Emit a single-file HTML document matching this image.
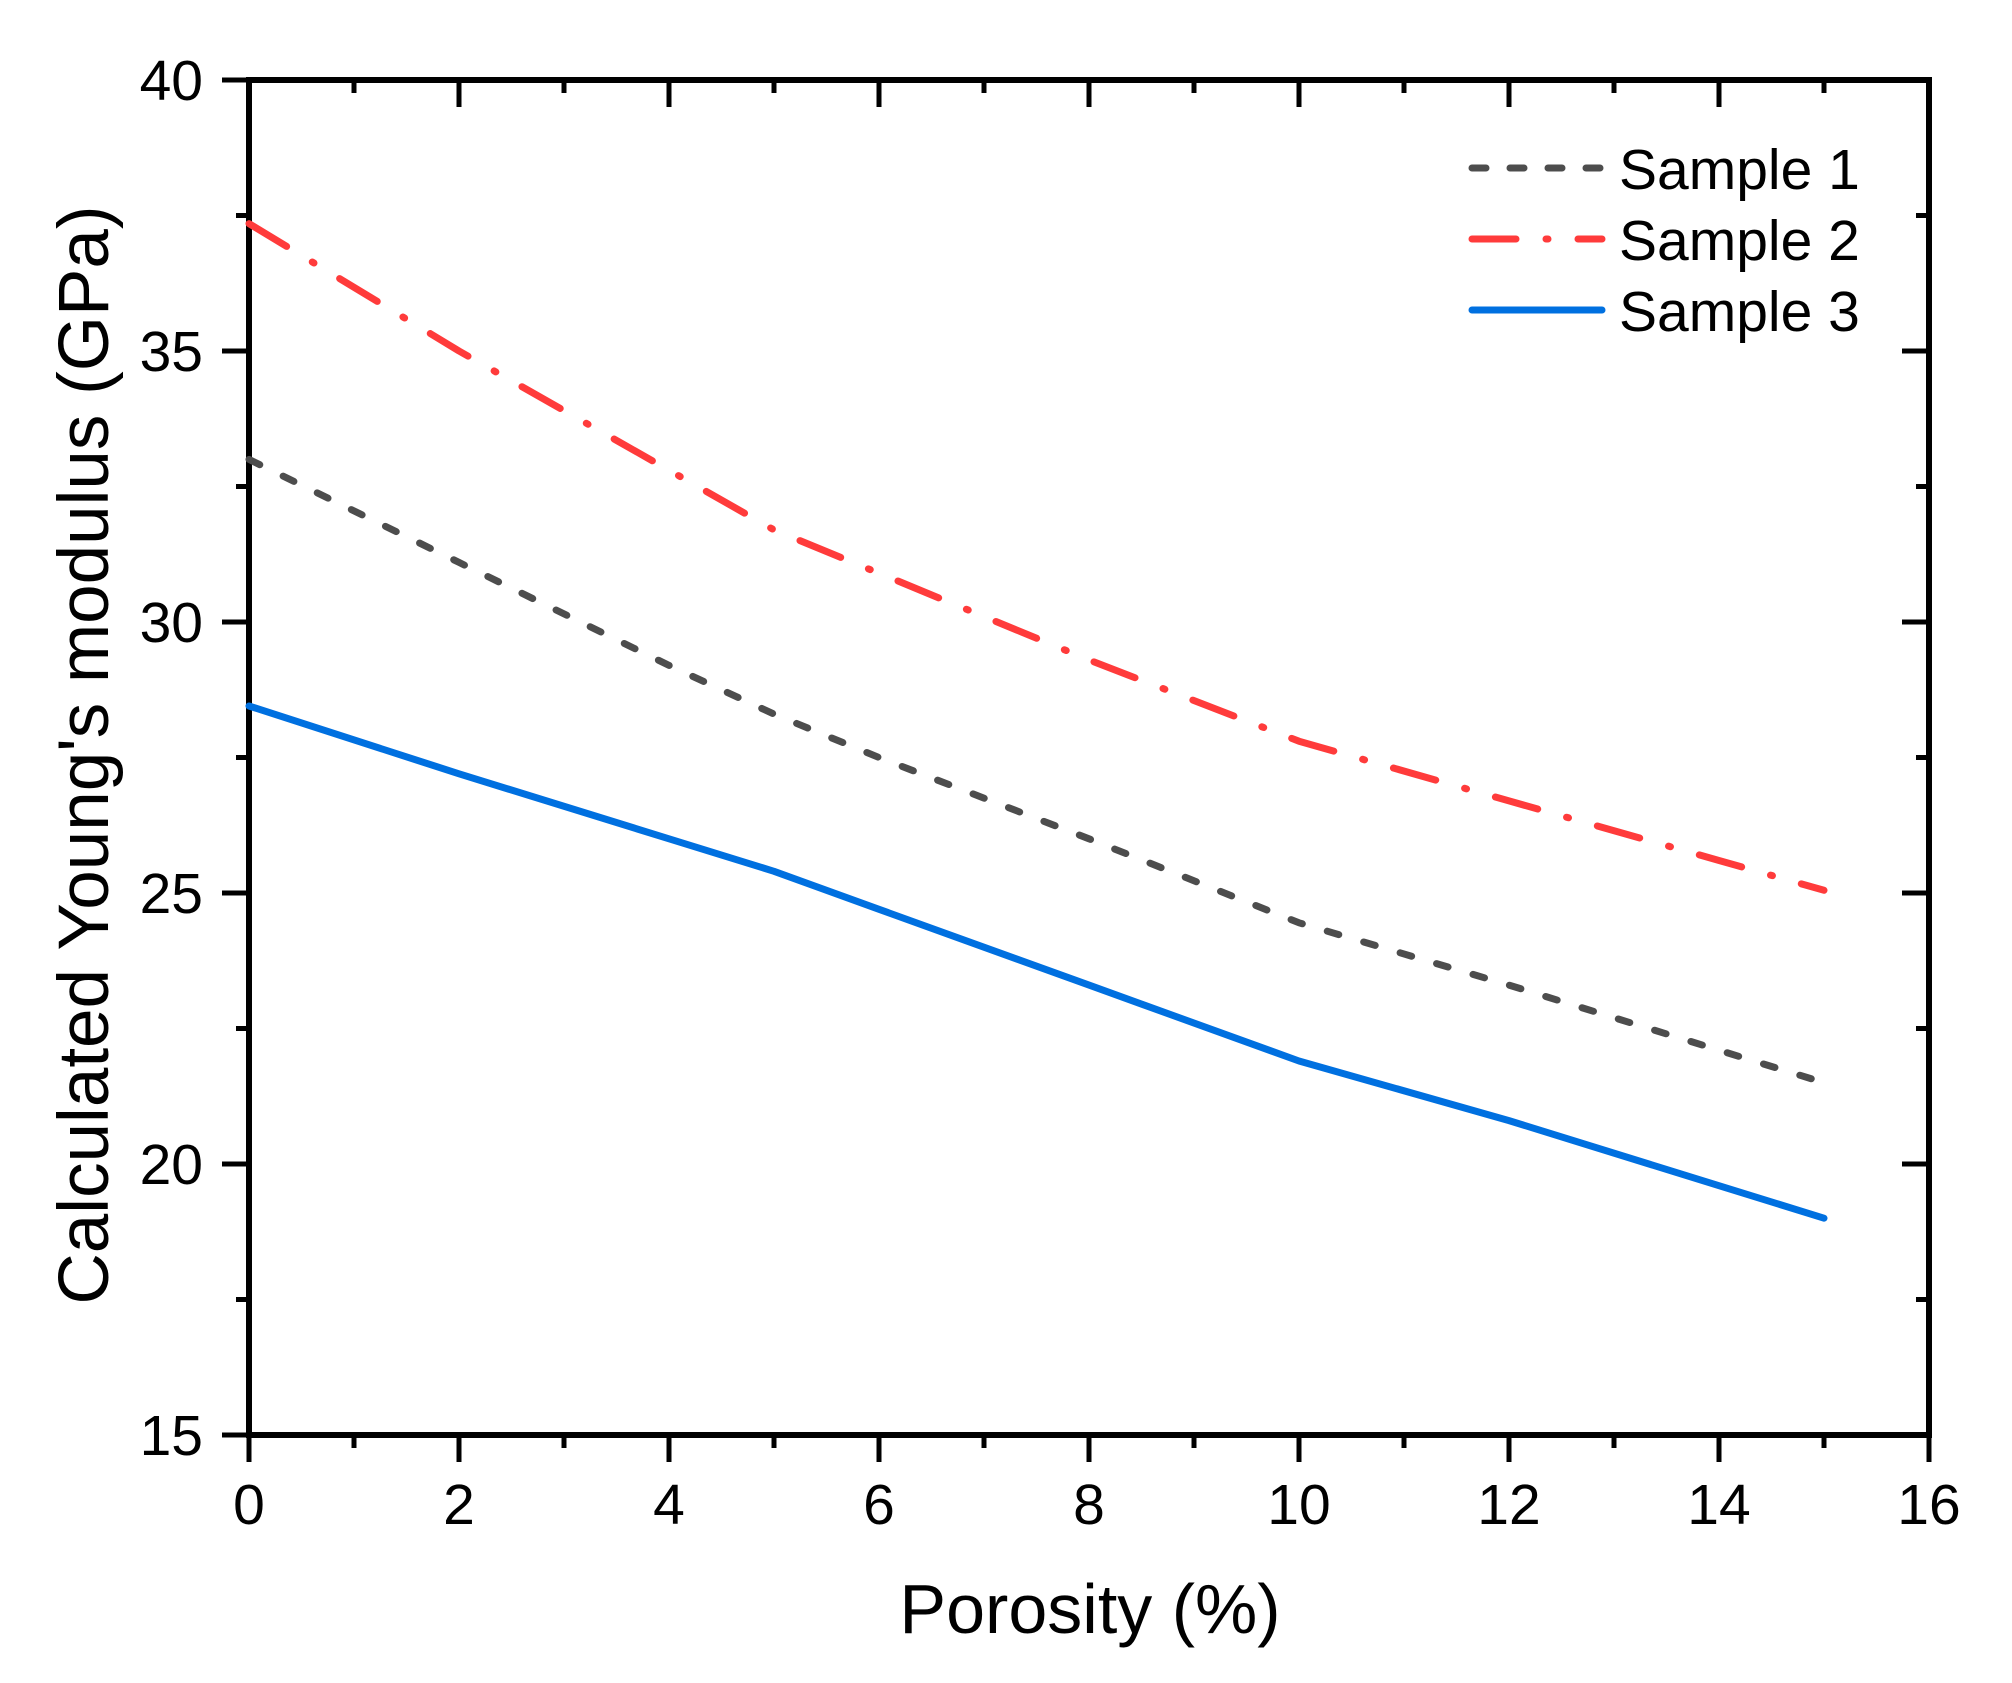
<!DOCTYPE html>
<html><head><meta charset="utf-8"><style>
html,body{margin:0;padding:0;background:#fff}
svg{display:block}
text{font-family:"Liberation Sans",Arial,sans-serif;fill:#000}
</style></head><body>
<svg id="chart" width="2012" height="1683" viewBox="0 0 2012 1683" xmlns="http://www.w3.org/2000/svg">
<g id="axes"></g>
<g id="series"></g>
<text x="1090" y="1633" font-size="70" text-anchor="middle">Porosity (%)</text>
<text transform="translate(108,755) rotate(-90)" font-size="71" text-anchor="middle">Calculated Young's modulus (GPa)</text>
<g id="legend"></g>
</svg>
<script>
const xTicks = [0,2,4,6,8,10,12,14,16];
const yTicks = [15,20,25,30,35,40];
const porosity = [0,2,4,5,6,8,10,12,14,15];
const sample1 = [33.0,31.1,29.2,28.3,27.5,26.0,24.45,23.3,22.1,21.5];
const sample2 = [37.35,35.0,32.8,31.7,30.9,29.3,27.8,26.7,25.6,25.05];
const sample3 = [28.45,27.2,26.0,25.4,24.7,23.3,21.9,20.8,19.6,19.0];
const seriesNames = ["Sample 1","Sample 2","Sample 3"];

const L=249,R=1929,T=80,B=1435;
const xMin=0,xMax=16,yMin=15,yMax=40;
function xs(v){return L+(v-xMin)/(xMax-xMin)*(R-L);}
function ys(v){return B-(v-yMin)/(yMax-yMin)*(B-T);}
const NS="http://www.w3.org/2000/svg";
function mk(tag,attrs,parent){const e=document.createElementNS(NS,tag);for(const k in attrs)e.setAttribute(k,attrs[k]);parent.appendChild(e);return e;}
const axes=document.getElementById('axes');
let f=mk('rect',{x:L,y:T,width:R-L,height:B-T,fill:'none',stroke:'#000','stroke-width':6},axes);


for(let v=xMin;v<=xMax;v+=1){
  const major=v%2===0;const len=major?27:13;const x=xs(v);
  let t=mk('line',{x1:x,y1:B,x2:x,y2:B+len,stroke:'#000','stroke-width':5},axes);
  
  
  let t2=mk('line',{x1:x,y1:T,x2:x,y2:T+len,stroke:'#000','stroke-width':5},axes);
  
  
}
xTicks.forEach(v=>{
  let tx=mk('text',{x:xs(v),y:1524,'font-size':57,'text-anchor':'middle'},axes);tx.textContent=v;
  
  
});
for(let v=yMin;v<=yMax;v+=2.5){
  const major=v%5===0;const len=major?27:13;const y=ys(v);
  let t=mk('line',{x1:L-len,y1:y,x2:L,y2:y,stroke:'#000','stroke-width':5},axes);
  
  
  let t2=mk('line',{x1:R-len,y1:y,x2:R,y2:y,stroke:'#000','stroke-width':5},axes);
  
  
}
yTicks.forEach(v=>{
  let tx=mk('text',{x:203,y:ys(v)+20,'font-size':57,'text-anchor':'end'},axes);tx.textContent=v;
  
  
});
const styles=[
  {stroke:'#4d4d4d',dash:'12 26'},
  {stroke:'#ff3b3b',dash:'44 30 2 30'},
  {stroke:'#0070e0',dash:''}
];
const data=[sample1,sample2,sample3];
const sg=document.getElementById('series');
data.forEach((arr,i)=>{
  const d=arr.map((v,j)=>(j?'L':'M')+xs(porosity[j]).toFixed(1)+','+ys(v).toFixed(1)).join(' ');
  const p=mk('path',{d:d,fill:'none',stroke:styles[i].stroke,'stroke-width':7,'stroke-linecap':'round','stroke-linejoin':'round'},sg);
  if(styles[i].dash)p.setAttribute('stroke-dasharray',styles[i].dash);
  
  
});
const lg=document.getElementById('legend');
const rowsY=[168,239,310];
seriesNames.forEach((n,i)=>{
  const dash=i===0?'14 24':(i===1?'44 30 2 30':'');
  const ln=mk('line',{x1:1472,y1:rowsY[i],x2:1602,y2:rowsY[i],stroke:styles[i].stroke,'stroke-width':7,'stroke-linecap':'round'},lg);
  if(dash)ln.setAttribute('stroke-dasharray',dash);
  
  
  const tx=mk('text',{x:1619,y:rowsY[i]+21,'font-size':57},lg);tx.textContent=n;
  
  
});
</script>
</body></html>
